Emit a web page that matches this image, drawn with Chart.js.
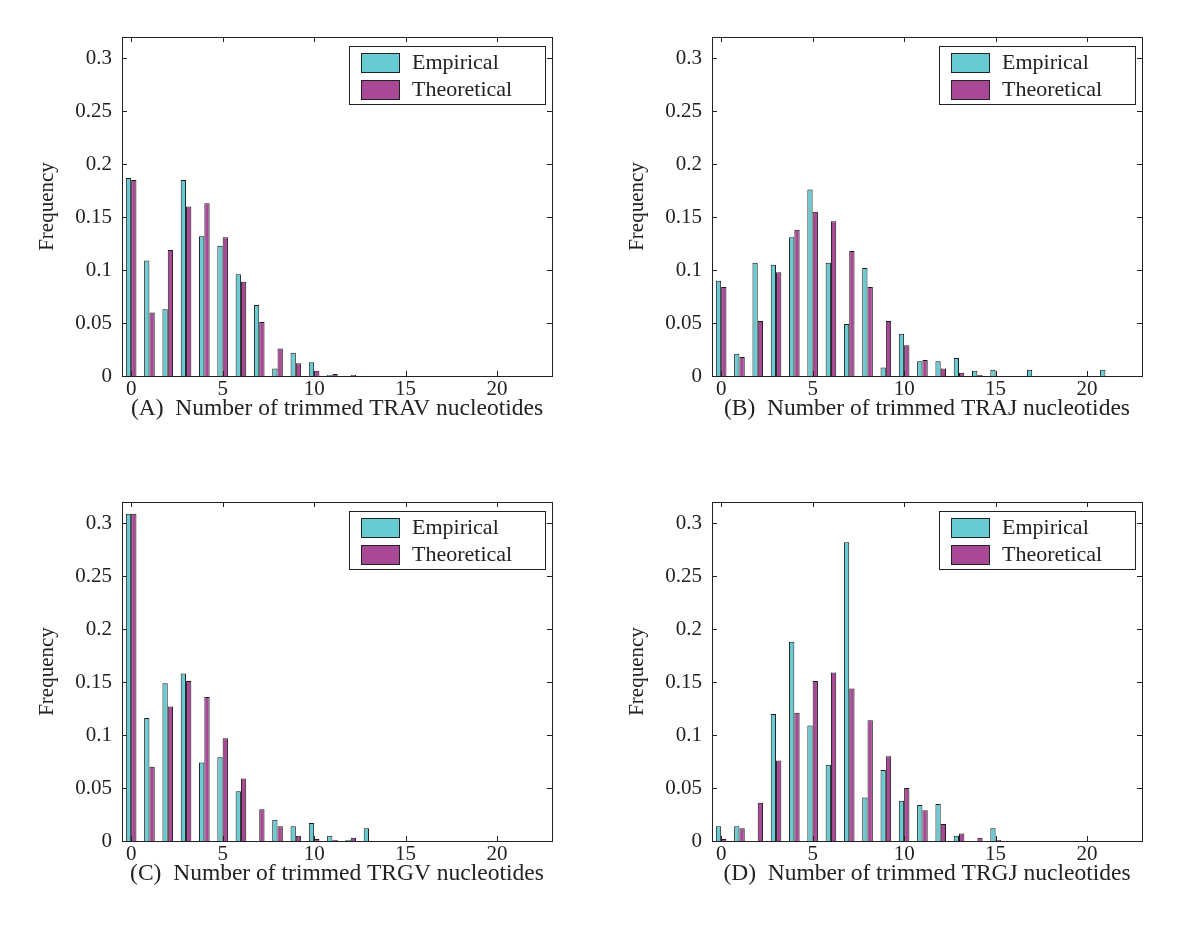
<!DOCTYPE html>
<html>
<head>
<meta charset="utf-8">
<title>Trimmed nucleotides</title>
<script src="https://cdn.jsdelivr.net/npm/chart.js@4.4.1/dist/chart.umd.min.js"></script>
<style>
    body { margin: 0; background: #fff; }
    #wrap { position: relative; width: 1200px; height: 951px; }
    .panel { position: absolute; width: 590px; height: 440px; }
</style>
</head>
<body>
<div id="wrap">
    <div class="panel" style="left:0;top:0"><canvas id="chartA"></canvas></div>
    <div class="panel" style="left:590px;top:0"><canvas id="chartB"></canvas></div>
    <div class="panel" style="left:0;top:465px"><canvas id="chartC"></canvas></div>
    <div class="panel" style="left:590px;top:465px"><canvas id="chartD"></canvas></div>
</div>
<script>
// Number of trimmed nucleotides, 0..22
const trimmed = Array.from({ length: 23 }, (_, i) => i);

const xTicks = [0, 5, 10, 15, 20];
const yTicks = [0, 0.05, 0.1, 0.15, 0.2, 0.25, 0.3];

// (A) TRAV
const travEmpirical   = [0.187, 0.109, 0.063, 0.185, 0.132, 0.123, 0.096, 0.067, 0.007, 0.022, 0.013, 0.001, 0, 0, 0, 0, 0, 0, 0, 0, 0, 0, 0];
const travTheoretical = [0.185, 0.060, 0.119, 0.160, 0.163, 0.131, 0.089, 0.051, 0.026, 0.012, 0.005, 0.002, 0.001, 0, 0, 0, 0, 0, 0, 0, 0, 0, 0];

// (B) TRAJ
const trajEmpirical   = [0.090, 0.021, 0.107, 0.105, 0.131, 0.176, 0.107, 0.049, 0.102, 0.008, 0.040, 0.014, 0.014, 0.017, 0.005, 0.006, 0, 0.006, 0, 0, 0, 0.006, 0];
const trajTheoretical = [0.084, 0.018, 0.052, 0.098, 0.138, 0.155, 0.146, 0.118, 0.084, 0.052, 0.029, 0.015, 0.007, 0.003, 0.001, 0, 0, 0, 0, 0, 0, 0, 0];

// (C) TRGV
const trgvEmpirical   = [0.309, 0.116, 0.149, 0.158, 0.074, 0.079, 0.047, 0, 0.020, 0.014, 0.017, 0.005, 0.001, 0.012, 0, 0, 0, 0, 0, 0, 0, 0, 0];
const trgvTheoretical = [0.309, 0.070, 0.127, 0.151, 0.136, 0.097, 0.059, 0.030, 0.014, 0.005, 0.002, 0.001, 0.003, 0, 0, 0, 0, 0, 0, 0, 0, 0, 0];

// (D) TRGJ
const trgjEmpirical   = [0.014, 0.014, 0, 0.120, 0.188, 0.109, 0.072, 0.282, 0.041, 0.067, 0.038, 0.034, 0.035, 0.005, 0, 0.012, 0, 0, 0, 0, 0, 0, 0];
const trgjTheoretical = [0.002, 0.012, 0.036, 0.076, 0.121, 0.151, 0.159, 0.144, 0.114, 0.080, 0.050, 0.029, 0.016, 0.007, 0.003, 0.001, 0, 0, 0, 0, 0, 0, 0];

const seriesNames = ['Empirical', 'Theoretical'];
const cyan = '#68cbd4';
const magenta = '#a84896';
const serif = "'Liberation Serif', 'Times New Roman', serif";

// Box round the plot, inward ticks on all sides, and the boxed legend
const framePlugin = {
    id: 'frame',
    afterDraw(chart) {
        const { ctx, chartArea: a, scales } = chart;
        ctx.save();
        ctx.strokeStyle = '#222';
        ctx.lineWidth = 1;
        ctx.strokeRect(a.left + 0.5, a.top + 0.5, a.right - a.left, a.bottom - a.top);
        ctx.beginPath();
        xTicks.forEach(v => {
            const x = Math.round(scales.x.getPixelForValue(v)) + 0.5;
            ctx.moveTo(x, a.bottom); ctx.lineTo(x, a.bottom - 5);
            ctx.moveTo(x, a.top); ctx.lineTo(x, a.top + 5);
        });
        yTicks.forEach(v => {
            const y = Math.round(scales.y.getPixelForValue(v)) + 0.5;
            ctx.moveTo(a.left, y); ctx.lineTo(a.left + 5, y);
            ctx.moveTo(a.right, y); ctx.lineTo(a.right - 5, y);
        });
        ctx.stroke();

        // legend
        const lx = a.right - 203, ly = a.top + 9;
        ctx.fillStyle = '#fff';
        ctx.fillRect(lx, ly, 196, 58);
        ctx.strokeRect(lx + 0.5, ly + 0.5, 196, 58);
        ctx.font = '22px ' + serif;
        ctx.textBaseline = 'middle';
        chart.data.datasets.forEach((ds, i) => {
            const sy = ly + 7 + i * 27;
            ctx.fillStyle = ds.backgroundColor;
            ctx.fillRect(lx + 12, sy, 38, 19);
            ctx.strokeRect(lx + 12.5, sy + 0.5, 38, 19);
            ctx.fillStyle = '#222';
            ctx.fillText(ds.label, lx + 63, sy + 10);
        });
        ctx.restore();
    }
};

function makeChart(id, title, empirical, theoretical) {
    const toPoints = arr => arr.map((y, i) => ({ x: trimmed[i], y: y }));
    new Chart(document.getElementById(id), {
        type: 'bar',
        data: {
            datasets: [
                { label: seriesNames[0], data: toPoints(empirical), backgroundColor: cyan },
                { label: seriesNames[1], data: toPoints(theoretical), backgroundColor: magenta }
            ]
        },
        options: {
            responsive: true,
            maintainAspectRatio: false,
            animation: false,
            datasets: {
                bar: { borderColor: '#1a1a1a', borderWidth: 1, barPercentage: 1, categoryPercentage: 0.58 }
            },
            layout: { padding: { left: 0, top: 37, right: 38, bottom: 14 } },
            plugins: { legend: { display: false }, tooltip: { enabled: false } },
            scales: {
                x: {
                    type: 'linear',
                    offset: false,
                    min: -0.5,
                    max: 23,
                    grid: { display: false, drawTicks: false },
                    border: { display: false },
                    afterBuildTicks: s => { s.ticks = xTicks.map(v => ({ value: v })); },
                    afterFit: s => { s.height = 50; },
                    ticks: { color: '#222', padding: 3, font: { family: serif, size: 21, lineHeight: 1 } },
                    title: { display: true, text: title, color: '#222', padding: { top: 0, bottom: 3 }, font: { family: serif, size: 23.5 } }
                },
                y: {
                    min: 0,
                    max: 0.32,
                    grid: { display: false, drawTicks: false },
                    border: { display: false },
                    afterBuildTicks: s => { s.ticks = yTicks.map(v => ({ value: v })); },
                    afterFit: s => { s.width = 122; },
                    ticks: { color: '#222', padding: 10, font: { family: serif, size: 21 }, callback: v => String(+v.toFixed(2)) },
                    title: { display: true, text: 'Frequency', color: '#222', padding: { top: 35, bottom: 0 }, font: { family: serif, size: 21 } }
                }
            }
        },
        plugins: [framePlugin]
    });
}

makeChart('chartA', '(A)  Number of trimmed TRAV nucleotides', travEmpirical, travTheoretical);
makeChart('chartB', '(B)  Number of trimmed TRAJ nucleotides', trajEmpirical, trajTheoretical);
makeChart('chartC', '(C)  Number of trimmed TRGV nucleotides', trgvEmpirical, trgvTheoretical);
makeChart('chartD', '(D)  Number of trimmed TRGJ nucleotides', trgjEmpirical, trgjTheoretical);
</script>
</body>
</html>
